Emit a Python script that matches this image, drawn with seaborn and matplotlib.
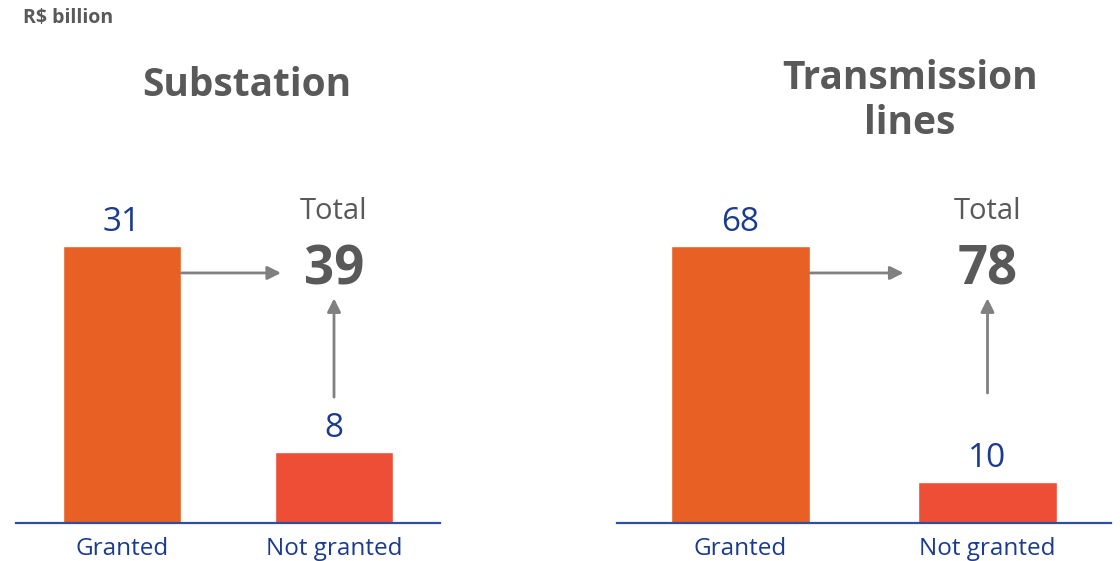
import numpy as np
import pandas as pd
import matplotlib.pyplot as plt
import seaborn as sns

# ----------------------------------
# Data
# ----------------------------------

categories = ["Granted", "Not granted"]
titles = ["Substation", "Transmission\nlines"]
substation = [31, 8]
transmission = [68, 10]
unit_label = "R$ billion"

series = [substation, transmission]

# ----------------------------------
# Style
# ----------------------------------

sns.set_style("white")
plt.rcParams["font.family"] = ["Open Sans", "DejaVu Sans"]

bar_colors = {"Granted": "#E96024", "Not granted": "#EE4E36"}
blue = "#1A3B8F"
gray_text = "#595959"
arrow_gray = "#808080"

fig = plt.figure(figsize=(11.2, 5.61), dpi=100)

W, H = 1120, 561
base_px = 523
top_px = 180
axes_px = [(16, 440), (617, 1111)]
title_x = [247, 910]
title_y = [85, 101]
arrow_end_x = [0.75, 0.66]
vert_start = [0.367, 0.379]

fig.text(23 / W, 1 - 18 / H, unit_label, fontsize=14, fontweight="bold",
         color=gray_text, ha="left", va="center")

for i, vals in enumerate(series):
    x0, x1 = axes_px[i]
    ax = fig.add_axes([x0 / W, (H - base_px) / H, (x1 - x0) / W,
                       (base_px - top_px) / H])

    df = pd.DataFrame({"category": categories, "value": vals})

    sns.barplot(
        data=df,
        x="category",
        y="value",
        hue="category",
        palette=bar_colors,
        width=0.56,
        legend=False,
        ax=ax,
        saturation=1
    )

    ymax = max(vals) * (base_px - top_px) / (base_px - 246)
    ax.set_xlim(-0.5, 1.5)
    ax.set_ylim(0, ymax)

    # value labels
    for j, v in enumerate(vals):
        ax.annotate(str(v), xy=(j, v), xytext=(0, 5),
                    textcoords="offset points", ha="center", va="bottom",
                    fontsize=24, color=blue)

    # total
    total = sum(vals)
    tr = ax.get_xaxis_transform()
    ax.text(1, 0.907, "Total", transform=tr, ha="center", va="center",
            fontsize=21, color=gray_text, clip_on=False)
    ax.text(1, 0.735, str(total), transform=tr, ha="center", va="center",
            fontsize=38, fontweight="bold", color=gray_text, clip_on=False)

    # arrows
    ax.annotate("", xy=(arrow_end_x[i], 0.729), xytext=(0.28, 0.729),
                xycoords=tr, textcoords=tr,
                arrowprops=dict(arrowstyle="-|>,head_length=0.8,head_width=0.4",
                                color=arrow_gray, lw=2, shrinkA=0, shrinkB=0))
    ax.annotate("", xy=(1, 0.655), xytext=(1, vert_start[i]),
                xycoords=tr, textcoords=tr,
                arrowprops=dict(arrowstyle="-|>,head_length=0.8,head_width=0.4",
                                color=arrow_gray, lw=2, shrinkA=0, shrinkB=0))

    ax.set_xlabel("")
    ax.set_ylabel("")
    ax.set_yticks([])
    ax.tick_params(axis="x", length=0, labelsize=17.5, labelcolor=blue, pad=10)
    sns.despine(ax=ax, left=True)
    ax.spines["bottom"].set_color("#2E4E9E")
    ax.spines["bottom"].set_linewidth(1.6)

    fig.text(title_x[i] / W, 1 - title_y[i] / H, titles[i], fontsize=28,
             fontweight="bold", color=gray_text, ha="center", va="center",
             linespacing=1.2)

fig.savefig("out.png", dpi=100)
